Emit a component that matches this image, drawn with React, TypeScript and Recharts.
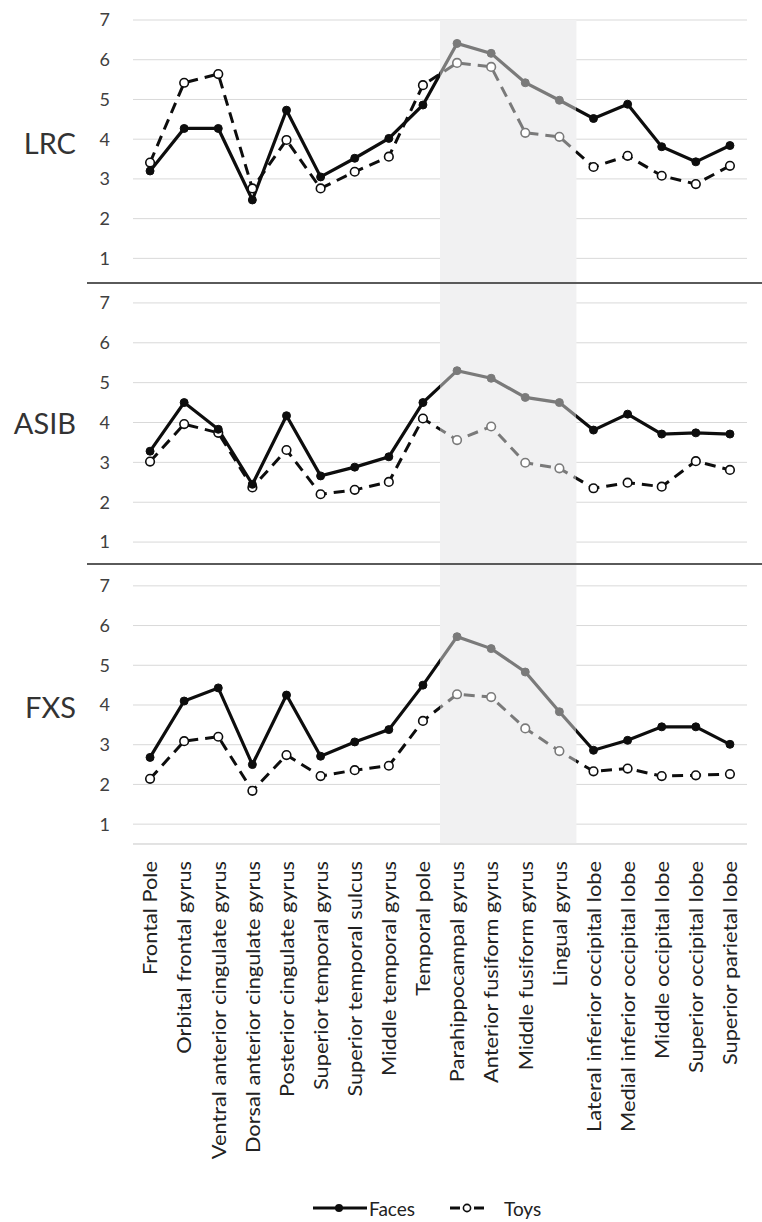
import React from "react";
import { CartesianGrid, Line, LineChart, ReferenceArea, XAxis, YAxis } from "recharts";

const regions = [
  "Frontal Pole",
  "Orbital frontal gyrus",
  "Ventral anterior cingulate gyrus",
  "Dorsal anterior cingulate gyrus",
  "Posterior cingulate gyrus",
  "Superior temporal gyrus",
  "Superior temporal sulcus",
  "Middle temporal gyrus",
  "Temporal pole",
  "Parahippocampal gyrus",
  "Anterior fusiform gyrus",
  "Middle fusiform gyrus",
  "Lingual gyrus",
  "Lateral inferior occipital lobe",
  "Medial inferior occipital lobe",
  "Middle occipital lobe",
  "Superior occipital lobe",
  "Superior parietal lobe"
];

const lrcFaces = [3.2, 4.27, 4.27, 2.47, 4.73, 3.05, 3.52, 4.02, 4.86, 6.41, 6.16, 5.42, 4.98, 4.52, 4.88, 3.81, 3.43, 3.84];
const lrcToys = [3.41, 5.42, 5.64, 2.76, 3.98, 2.76, 3.18, 3.56, 5.36, 5.92, 5.82, 4.16, 4.06, 3.3, 3.58, 3.08, 2.87, 3.33];
const asibFaces = [3.28, 4.5, 3.83, 2.45, 4.17, 2.66, 2.88, 3.14, 4.5, 5.3, 5.11, 4.63, 4.5, 3.81, 4.21, 3.71, 3.74, 3.71];
const asibToys = [3.02, 3.96, 3.74, 2.37, 3.31, 2.2, 2.31, 2.51, 4.1, 3.56, 3.9, 2.99, 2.85, 2.35, 2.49, 2.39, 3.03, 2.81];
const fxsFaces = [2.68, 4.1, 4.43, 2.5, 4.25, 2.71, 3.07, 3.38, 4.5, 5.72, 5.42, 4.83, 3.83, 2.86, 3.11, 3.45, 3.45, 3.01];
const fxsToys = [2.14, 3.09, 3.2, 1.84, 2.74, 2.21, 2.36, 2.47, 3.6, 4.27, 4.2, 3.41, 2.84, 2.33, 2.4, 2.21, 2.23, 2.26];

const groups = ["LRC", "ASIB", "FXS"];
const facesByGroup = [lrcFaces, asibFaces, fxsFaces];
const toysByGroup = [lrcToys, asibToys, fxsToys];
const yTicks = [1, 2, 3, 4, 5, 6, 7];
const shadedFrom = "Parahippocampal gyrus";
const shadedTo = "Lingual gyrus";

// layout
const W = 762;
const PLOT_LEFT = 133;
const PLOT_RIGHT = 747;
const BLACK = "#0d0d0d";
const GREY = "#7a7a7a";
const FONT = "Lato, 'Open Sans', sans-serif";

const panels = [
  { top: 0, height: 283, marginTop: 20, domain: [0.38, 7], labelY: 143 },
  { top: 283, height: 281, marginTop: 0, domain: [0.45, 7.5], labelY: 423 },
  { top: 564, height: 620, marginTop: 0, domain: [0.5, 7.55], labelY: 707 }
];

const xIdx = regions.map((_, i) => i);
const shadeX1 = regions.indexOf(shadedFrom) - 0.5;
const shadeX2 = regions.indexOf(shadedTo) + 0.5;
const band = (PLOT_RIGHT - PLOT_LEFT) / regions.length;
const shadeStart = (PLOT_LEFT + band * (shadeX1 + 0.5)) / W;
const shadeEnd = (PLOT_LEFT + band * (shadeX2 + 0.5)) / W;

function RegionTick({ x, y, payload }: any) {
  return (
    <text
      transform={`translate(${x},${y}) rotate(-90) scale(1.19,1)`}
      textAnchor="end"
      dominantBaseline="central"
      fontSize={18.3}
      fontFamily={FONT}
      fill="#222"
    >
      {regions[payload.value]}
    </text>
  );
}

function Panel({ index }: { index: number }) {
  const p = panels[index];
  const last = index === panels.length - 1;
  const gid = `shade-stroke-${index}`;
  const data = regions.map((name, i) => ({
    idx: i,
    name,
    faces: facesByGroup[index][i],
    toys: toysByGroup[index][i]
  }));

  return (
    <div style={{ position: "absolute", left: 0, top: p.top }}>
      <LineChart width={W} height={p.height} data={data} margin={{ top: p.marginTop, right: W - PLOT_RIGHT, bottom: 0, left: 0 }}>
        <defs>
          <linearGradient id={gid} gradientUnits="userSpaceOnUse" x1={0} y1={0} x2={W} y2={0}>
            <stop offset={shadeStart} stopColor={BLACK} />
            <stop offset={shadeStart} stopColor={GREY} />
            <stop offset={shadeEnd} stopColor={GREY} />
            <stop offset={shadeEnd} stopColor={BLACK} />
          </linearGradient>
        </defs>
        <ReferenceArea x1={shadeX1} x2={shadeX2} fill="#f1f1f2" fillOpacity={1} stroke="none" ifOverflow="visible" />
        <CartesianGrid vertical={false} stroke="#d9d9d9" strokeWidth={1} />
        <XAxis
          dataKey="idx"
          type="number"
          domain={[-0.5, regions.length - 0.5]}
          ticks={xIdx}
          allowDataOverflow
          hide={!last}
          interval={0}
          height={340}
          tickLine={false}
          axisLine={{ stroke: "#d9d9d9" }}
          tickMargin={11}
          tick={<RegionTick />}
        />
        <YAxis
          type="number"
          domain={p.domain}
          ticks={yTicks}
          allowDataOverflow
          width={PLOT_LEFT}
          axisLine={false}
          tickLine={false}
          tickMargin={17}
          tick={{ fill: "#404040", fontSize: 18, fontFamily: FONT }}
        />
        <Line
          dataKey="toys"
          name="Toys"
          stroke={`url(#${gid})`}
          strokeWidth={3}
          strokeDasharray="11 7"
          dot={{ r: 4.3, fill: "#ffffff", stroke: `url(#${gid})`, strokeWidth: 1.6, strokeDasharray: "none" }}
          activeDot={false}
          isAnimationActive={false}
        />
        <Line
          dataKey="faces"
          name="Faces"
          stroke={`url(#${gid})`}
          strokeWidth={3.2}
          dot={{ r: 4, fill: `url(#${gid})`, stroke: `url(#${gid})`, strokeWidth: 1 }}
          activeDot={false}
          isAnimationActive={false}
        />
      </LineChart>
    </div>
  );
}

function LegendItem({ label, dashed, left }: { label: string; dashed: boolean; left: number }) {
  const w = dashed ? 34 : 54;
  return (
    <div style={{ position: "absolute", left, top: 1196, display: "flex", alignItems: "center", height: 24 }}>
      <svg width={w} height={12}>
        {dashed ? (
          <>
            <line x1={0} y1={6} x2={10} y2={6} stroke={BLACK} strokeWidth={3} />
            <line x1={24} y1={6} x2={34} y2={6} stroke={BLACK} strokeWidth={3} />
            <circle cx={17} cy={6} r={3.6} fill="#fff" stroke={BLACK} strokeWidth={1.6} />
          </>
        ) : (
          <>
            <line x1={0} y1={6} x2={w} y2={6} stroke={BLACK} strokeWidth={3} />
            <circle cx={26} cy={6} r={4} fill={BLACK} />
          </>
        )}
      </svg>
      <span style={{ marginLeft: dashed ? 20 : 2, fontSize: 19, color: "#222", fontFamily: FONT }}>{label}</span>
    </div>
  );
}

export default function App() {
  return (
    <div style={{ position: "absolute", left: 0, top: 0, width: W, height: 1222, background: "#fff", fontFamily: FONT, overflow: "hidden" }}>
      {panels.map((_, i) => (
        <Panel key={groups[i]} index={i} />
      ))}
      {groups.map((g, i) => (
        <div
          key={g}
          style={{
            position: "absolute",
            right: W - 76,
            top: panels[i].labelY - 18,
            fontSize: 29,
            lineHeight: "36px",
            color: "#333",
            fontFamily: FONT
          }}
        >
          {g}
        </div>
      ))}
      {[283, 564].map((y) => (
        <div key={y} style={{ position: "absolute", left: 87, top: y - 1, width: W - 87, height: 2, background: "#5a5a5a" }} />
      ))}
      <LegendItem label="Faces" dashed={false} left={313} />
      <LegendItem label="Toys" dashed={true} left={450} />
    </div>
  );
}
